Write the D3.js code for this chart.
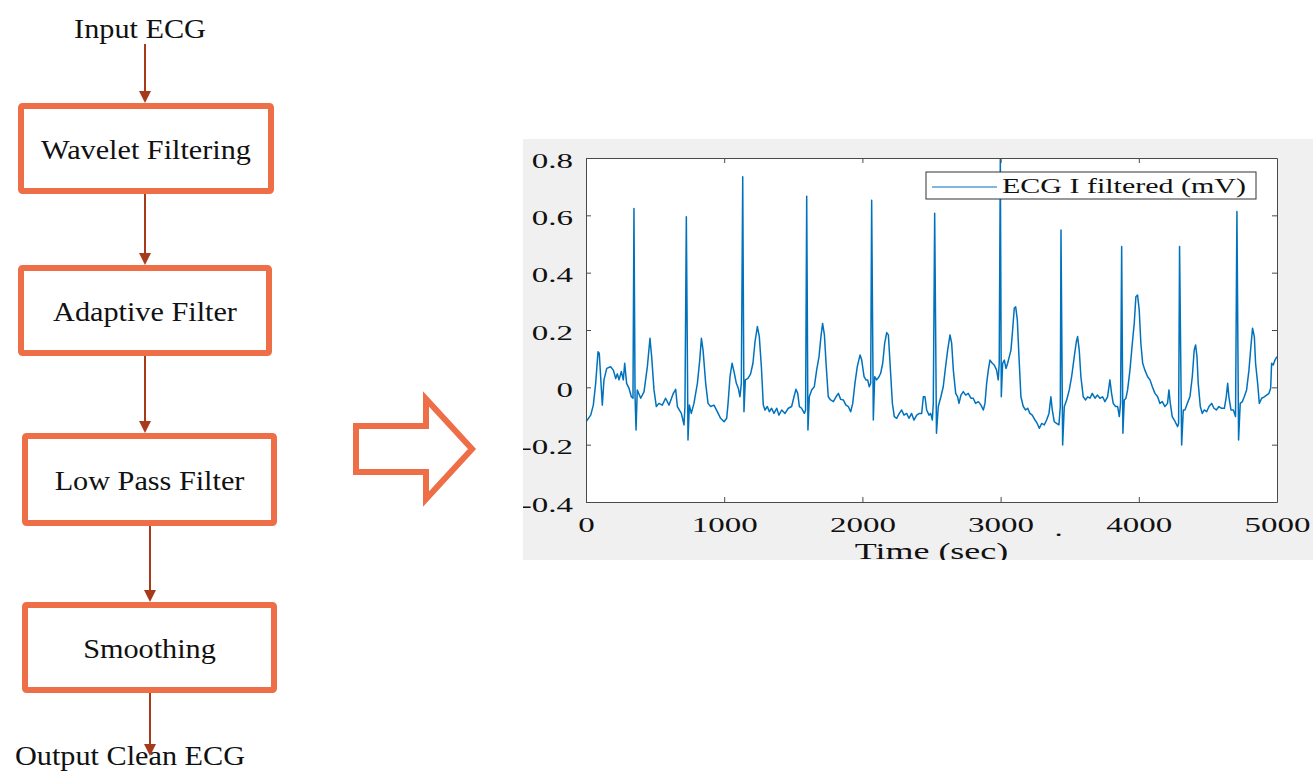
<!DOCTYPE html>
<html>
<head>
<meta charset="utf-8">
<script src="https://cdn.jsdelivr.net/npm/d3@7"></script>
<style>
    body { margin: 0; background: #ffffff; }
    svg { display: block; }
    text { font-family: "Liberation Serif", "Times New Roman", serif; fill: #111; }
</style>
</head>
<body>
<svg id="canvas"></svg>
<script>
// ---- data ----
const flowInput = "Input ECG";
const flowSteps = ["Wavelet Filtering", "Adaptive Filter", "Low Pass Filter", "Smoothing"];
const flowOutput = "Output Clean ECG";

const xTicks = [0, 1000, 2000, 3000, 4000, 5000];
const yTicks = [-0.4, -0.2, 0, 0.2, 0.4, 0.6, 0.8];
const xLabel = "Time (sec)";
const legendLabel = "ECG I filtered (mV)";

// ECG trace (time, mV)
const ecgTime = [
    0, 34, 53, 70, 87, 96, 106, 118, 130, 150, 178, 198, 215, 227, 239, 256, 270, 280, 294, 311,
    328, 340, 347, 355, 362, 371, 396, 420, 444, 463, 475, 492, 509, 528, 552, 576, 601, 632, 649, 661,
    690, 709, 716, 726, 738, 748, 762, 781, 806, 823, 835, 847, 866, 883, 902, 926, 950, 974, 999, 1018,
    1028, 1042, 1057, 1071, 1088, 1102, 1114, 1124, 1134, 1143, 1153, 1172, 1191, 1208, 1223, 1240, 1254, 1269,
    1283, 1295, 1312, 1327, 1343, 1360, 1380, 1396, 1416, 1440, 1464, 1488, 1505, 1519, 1532, 1544, 1560, 1580,
    1589, 1597, 1606, 1616, 1633, 1652, 1669, 1686, 1700, 1712, 1725, 1737, 1753, 1770, 1790, 1809, 1826, 1843,
    1862, 1881, 1898, 1915, 1930, 1946, 1963, 1983, 1995, 2012, 2026, 2038, 2050, 2060, 2067, 2079, 2089, 2103,
    2120, 2132, 2147, 2161, 2176, 2188, 2200, 2217, 2231, 2248, 2267, 2284, 2301, 2320, 2337, 2356, 2373, 2393,
    2412, 2429, 2441, 2453, 2465, 2482, 2494, 2506, 2513, 2523, 2536,
    2549, 2568, 2585, 2602, 2617, 2634, 2646, 2658, 2675, 2689, 2699, 2713, 2730, 2747, 2766, 2785, 2802, 2819,
    2839, 2858, 2875, 2887, 2899, 2911, 2923, 2940, 2954, 2971, 2983, 2990, 2998, 3005, 3015, 3027, 3039, 3051,
    3063, 3075, 3087, 3099, 3109, 3121, 3133, 3147, 3164, 3181, 3196, 3212, 3229, 3249, 3265, 3280, 3297, 3316,
    3333, 3350, 3364, 3374, 3388, 3405, 3422, 3432, 3437, 3449, 3461, 3478, 3497, 3514, 3533, 3548, 3557, 3569,
    3581, 3598, 3615, 3630, 3647, 3663, 3683, 3700, 3719, 3738, 3755,
    3774, 3791, 3803, 3815, 3832, 3847, 3859, 3868, 3876, 3885, 3895, 3907, 3919, 3936, 3953, 3967, 3979, 3991,
    4003, 4015, 4028, 4044, 4064, 4081, 4098, 4117, 4136, 4153, 4170, 4189, 4208, 4218, 4228, 4242, 4257, 4269,
    4281, 4288, 4295, 4310, 4322, 4334, 4351, 4370, 4387, 4401, 4411, 4421, 4430, 4445, 4459, 4474, 4491, 4508,
    4527, 4544, 4561, 4580, 4599, 4619, 4633, 4643, 4652, 4667, 4684, 4700, 4710, 4722, 4734, 4749, 4763, 4780,
    4797, 4811, 4823, 4836, 4845, 4860, 4872, 4889, 4908, 4925, 4942, 4954, 4961, 4973, 4985, 5000
];
const ecgValue = [
    -0.12, -0.097, -0.062, 0.014, 0.124, 0.119, 0.037, -0.062, 0.026, 0.066, 0.072, 0.06, 0.031, 0.047, 0.026, 0.055, 0.026, 0.084, 0.014, -0.003,
    -0.033, -0.038, 0.624, -0.033, -0.149, -0.009, -0.038, -0.015, 0.072, 0.171, 0.107, -0.009, -0.067, -0.056, -0.062, -0.038, -0.062, -0.021, -0.007, -0.067,
    -0.091, -0.131, -0.067, 0.595, -0.184, -0.062, -0.091, -0.056, 0.014, 0.095, 0.171, 0.13, 0.014, -0.056, -0.067, -0.062, -0.085, -0.108, -0.12, -0.108,
    -0.056, 0.037, 0.084, 0.055, 0.014, -0.003, -0.033, 0.014, 0.735, -0.085, 0.026, 0.031, 0.047, 0.084, 0.159, 0.212, 0.177, 0.072,
    -0.062, -0.079, -0.067, -0.085, -0.073, -0.091, -0.073, -0.097, -0.079, -0.091, -0.073, -0.067, -0.033, -0.007, -0.021, -0.067, -0.073, -0.091,
    -0.079, 0.667, -0.149, -0.033, -0.009, 0.002, 0.06, 0.107, 0.177, 0.223, 0.183, 0.084, -0.033, -0.044, -0.05, -0.033, -0.021, -0.042,
    -0.044, -0.062, -0.067, -0.085, -0.056, 0.014, 0.072, 0.113, 0.095, 0.037, 0.026, 0.026, 0.002, 0.014, 0.653, -0.114, 0.037, 0.026,
    0.037, 0.049, 0.084, 0.153, 0.191, 0.183, 0.084, -0.056, -0.102, -0.108, -0.091, -0.079, -0.097, -0.091, -0.108, -0.091, -0.114, -0.097,
    -0.091, -0.091, -0.033, -0.033, -0.079, -0.097, -0.091, -0.114, -0.056, 0.607, -0.16,
    -0.067, -0.033, 0.002, 0.072, 0.13, 0.183, 0.153, 0.06, -0.021, -0.033, -0.056, -0.027, -0.015, -0.027, -0.021, -0.038, -0.038, -0.056,
    -0.05, -0.062, -0.079, -0.056, 0.014, 0.06, 0.095, 0.084, 0.078, 0.06, 0.026, 0.084, 0.8, -0.033, 0.084, 0.095, 0.066, 0.084,
    0.107, 0.13, 0.2, 0.276, 0.281, 0.235, 0.107, -0.033, -0.067, -0.079, -0.073, -0.091, -0.097, -0.114, -0.126, -0.143, -0.126, -0.131,
    -0.114, -0.091, -0.033, -0.079, -0.12, -0.126, -0.131, -0.067, 0.549, -0.201, -0.067, -0.044, -0.009, 0.037, 0.107, 0.159, 0.177, 0.13,
    0.037, -0.033, -0.044, -0.033, -0.038, -0.021, -0.038, -0.027, -0.038, -0.033, -0.05,
    -0.033, 0.026, -0.021, -0.056, -0.067, -0.067, -0.102, -0.056, 0.491, -0.16, -0.044, -0.038, -0.009, 0.06, 0.153, 0.223, 0.316, 0.322,
    0.27, 0.153, 0.084, 0.06, 0.037, 0.026, 0.002, -0.021, -0.033, -0.056, -0.05, -0.067, -0.056, -0.009, -0.056, -0.102, -0.114, -0.126,
    -0.137, -0.126, 0.491, -0.201, -0.079, -0.079, -0.056, -0.033, 0.037, 0.13, 0.148, 0.107, 0.014, -0.067, -0.091, -0.079, -0.085, -0.067,
    -0.056, -0.073, -0.079, -0.067, -0.073, -0.073, -0.033, 0.014, -0.033, -0.079, -0.079, -0.102, 0.613, -0.184, -0.056, -0.05, -0.033, -0.009,
    0.06, 0.142, 0.206, 0.177, 0.084, 0.014, -0.056, -0.038, -0.033, -0.027, -0.021, -0.003, 0.084, 0.078, 0.095, 0.107
];

const ORANGE = "#ee6e48";
const ARROW = "#a83a1c";
const STRETCH = 1.5; // chart text in the picture is horizontally stretched

const svg = d3.select("#canvas").attr("width", 1313).attr("height", 772);

// ---- flowchart ----
function drawFlowchart() {
    // box outlines (stroke centre), laid out to follow the picture
    let boxes = [
        { x: 21, y: 106, w: 250, h: 85 },
        { x: 21, y: 268, w: 248, h: 85 },
        { x: 25, y: 436, w: 249, h: 87 },
        { x: 25, y: 605, w: 249, h: 85 }
    ];
    let g = svg.append("g").attr("class", "flow");

    g.selectAll("rect.step")
        .data(flowSteps)
        .join("rect")
        .attr("class", "step")
        .attr("x", (d, i) => boxes[i].x)
        .attr("y", (d, i) => boxes[i].y)
        .attr("width", (d, i) => boxes[i].w)
        .attr("height", (d, i) => boxes[i].h)
        .attr("rx", 1.5)
        .attr("fill", "#fff")
        .attr("stroke", ORANGE)
        .attr("stroke-width", 6);

    g.selectAll("text.step")
        .data(flowSteps)
        .join("text")
        .attr("class", "step")
        .attr("text-anchor", "middle")
        .attr("font-size", 28)
        .attr("transform", (d, i) => {
            let cx = boxes[i].x + boxes[i].w / 2;
            let cy = boxes[i].y + boxes[i].h / 2 + 10;
            return `translate(${cx},${cy}) scale(1.08,1)`;
        })
        .text(d => d);

    g.append("text")
        .attr("text-anchor", "middle")
        .attr("font-size", 28)
        .attr("transform", "translate(140,38) scale(1.08,1)")
        .text(flowInput);

    // connectors: [x, y from, y to]
    let arrows = [
        [145, 44, 103],
        [145, 194, 265],
        [145, 356, 433],
        [150, 526, 602],
        [150, 693, 756]
    ];
    arrows.forEach(a => {
        g.append("line")
            .attr("x1", a[0]).attr("x2", a[0])
            .attr("y1", a[1]).attr("y2", a[2] - 10)
            .attr("stroke", ARROW)
            .attr("stroke-width", 2);
        g.append("path")
            .attr("d", `M${a[0] - 6},${a[2] - 12} L${a[0] + 6},${a[2] - 12} L${a[0]},${a[2]} Z`)
            .attr("fill", ARROW);
    });

    g.append("text")
        .attr("text-anchor", "middle")
        .attr("font-size", 28)
        .attr("transform", "translate(130,765) scale(1.08,1)")
        .text(flowOutput);

    // hollow block arrow
    g.append("path")
        .attr("d", "M356,426 L426,426 L426,399 L472,449 L426,499 L426,472 L356,472 Z")
        .attr("fill", "#fff")
        .attr("stroke", ORANGE)
        .attr("stroke-width", 6)
        .attr("stroke-linejoin", "miter");
}

// ---- ECG chart ----
class EcgChart {
    constructor(_config) {
        this.config = {
            left: _config.left,
            top: _config.top,
            width: _config.width,
            height: _config.height
        };
        this.initVis();
    }

    initVis() {
        let vis = this;

        // figure panel (grey) with clipping like the picture
        svg.append("clipPath").attr("id", "figClip")
            .append("rect")
            .attr("x", 523).attr("y", 139).attr("width", 790).attr("height", 421);
        vis.fig = svg.append("g").attr("clip-path", "url(#figClip)");
        vis.fig.append("rect")
            .attr("x", 523).attr("y", 139).attr("width", 790).attr("height", 421)
            .attr("fill", "#f0f0f0");

        vis.chart = vis.fig.append("g")
            .attr("transform", `translate(${vis.config.left},${vis.config.top})`);

        vis.chart.append("rect")
            .attr("width", vis.config.width)
            .attr("height", vis.config.height)
            .attr("fill", "#fff");

        vis.xScale = d3.scaleLinear().domain([0, 5000]).range([0, vis.config.width]);
        vis.yScale = d3.scaleLinear().domain([-0.4, 0.8]).range([vis.config.height, 0]);

        vis.updateVis();
    }

    updateVis() {
        let vis = this;
        vis.points = ecgTime.map((t, i) => ({ t: t, v: ecgValue[i] }));
        vis.line = d3.line()
            .x(d => vis.xScale(d.t))
            .y(d => vis.yScale(d.v));
        vis.renderVis();
    }

    renderVis() {
        let vis = this;
        let w = vis.config.width, h = vis.config.height;

        vis.chart.append("clipPath").attr("id", "plotClip")
            .append("rect").attr("width", w).attr("height", h);

        vis.chart.append("path")
            .datum(vis.points)
            .attr("clip-path", "url(#plotClip)")
            .attr("fill", "none")
            .attr("stroke", "#0072bd")
            .attr("stroke-width", 1.5)
            .attr("stroke-linejoin", "round")
            .attr("d", vis.line);

        // axes, MATLAB style: ticks inward, box on
        let xAxis = d3.axisBottom(vis.xScale).tickValues(xTicks).tickSizeInner(-5).tickSizeOuter(0)
            .tickFormat(d3.format("d"));
        let yAxis = d3.axisLeft(vis.yScale).tickValues(yTicks).tickSizeInner(-5).tickSizeOuter(0)
            .tickFormat(d => d === 0 ? "0" : d3.format(".1f")(d).replace("\u2212", "-"));
        let xTop = d3.axisTop(vis.xScale).tickValues(xTicks.slice(1, -1)).tickSizeInner(-5).tickSizeOuter(0).tickFormat("");
        let yRight = d3.axisRight(vis.yScale).tickValues(yTicks.slice(1, -1)).tickSizeInner(-5).tickSizeOuter(0).tickFormat("");

        let xg = vis.chart.append("g").attr("transform", `translate(0,${h})`).call(xAxis);
        let yg = vis.chart.append("g").call(yAxis);
        let tg = vis.chart.append("g").call(xTop);
        let rg = vis.chart.append("g").attr("transform", `translate(${w},0)`).call(yRight);

        [xg, yg, tg, rg].forEach(g => {
            g.select(".domain").attr("stroke", "#4a4a4a").attr("stroke-width", 1);
            g.selectAll(".tick line").attr("stroke", "#4a4a4a").attr("stroke-width", 1);
        });

        xg.selectAll(".tick text")
            .attr("font-size", 22)
            .attr("font-family", "Liberation Serif, serif")
            .attr("fill", "#222")
            .attr("y", 30)
            .attr("dy", 0)
            .attr("transform", `scale(${STRETCH},1)`);

        yg.selectAll(".tick text")
            .attr("font-size", 22)
            .attr("font-family", "Liberation Serif, serif")
            .attr("fill", "#222")
            .attr("x", -13 / STRETCH)
            .attr("y", 2)
            .attr("dy", "0.32em")
            .attr("transform", `scale(${STRETCH},1)`);

        vis.chart.append("text")
            .attr("text-anchor", "middle")
            .attr("font-size", 24)
            .attr("fill", "#222")
            .attr("transform", `translate(${w / 2},401) scale(${STRETCH},1)`)
            .text(xLabel);

        // stray dot in the picture under the axis
        vis.chart.append("text")
            .attr("text-anchor", "middle")
            .attr("font-size", 22)
            .attr("fill", "#333")
            .attr("transform", `translate(${vis.xScale(3420)},34) scale(${STRETCH},1)`)
            .attr("y", h)
            .text(".");

        // legend
        let lg = vis.chart.append("g").attr("transform", `translate(${w - 351},14)`);
        lg.append("rect")
            .attr("width", 330).attr("height", 27)
            .attr("fill", "#fff")
            .attr("stroke", "#333")
            .attr("stroke-width", 1);
        lg.append("line")
            .attr("x1", 6).attr("x2", 71)
            .attr("y1", 15).attr("y2", 15)
            .attr("stroke", "#0072bd")
            .attr("stroke-width", 1.2);
        lg.append("text")
            .attr("font-size", 20)
            .attr("fill", "#222")
            .attr("transform", `translate(76,21) scale(${STRETCH},1)`)
            .text(legendLabel);
    }
}

drawFlowchart();
new EcgChart({ left: 586, top: 158, width: 691, height: 344 });
</script>
</body>
</html>
